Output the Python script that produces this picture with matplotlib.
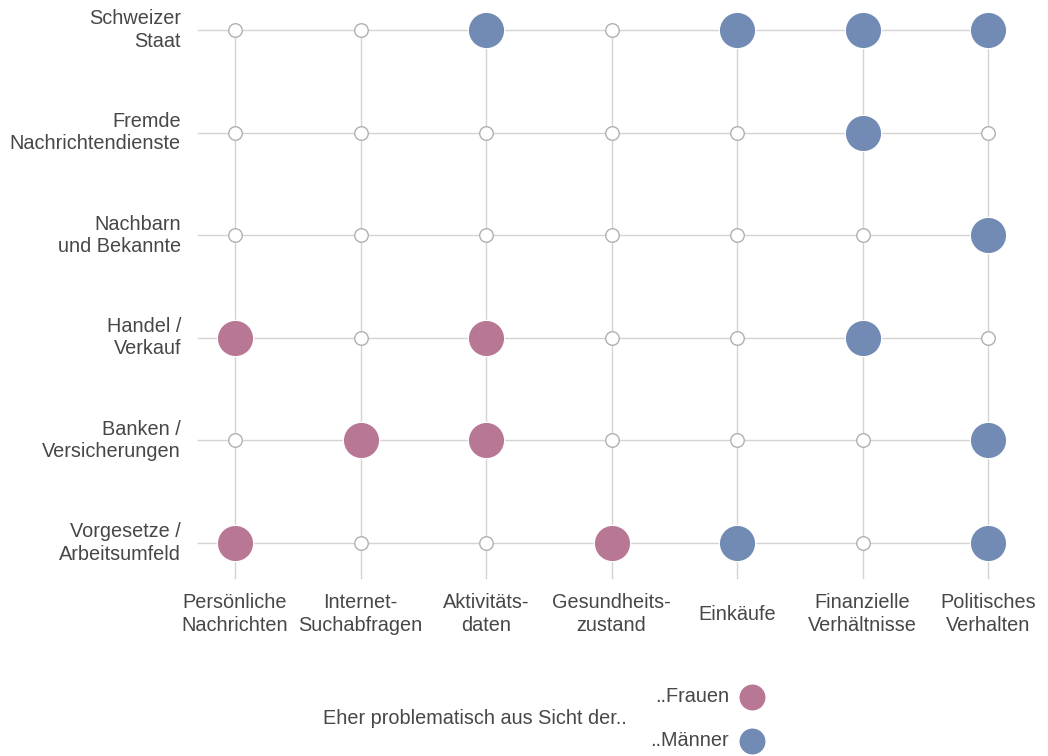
import matplotlib
matplotlib.use("Agg")
import matplotlib.pyplot as plt
import numpy as np

plt.rcParams['font.family'] = ['Liberation Sans', 'DejaVu Sans']

x_labels = ["Persönliche\nNachrichten", "Internet-\nSuchabfragen", "Aktivitäts-\ndaten",
            "Gesundheits-\nzustand", "Einkäufe", "Finanzielle\nVerhältnisse", "Politisches\nVerhalten"]
# bottom to top
y_labels = ["Vorgesetze /\nArbeitsumfeld", "Banken /\nVersicherungen", "Handel /\nVerkauf",
            "Nachbarn\nund Bekannte", "Fremde\nNachrichtendienste", "Schweizer\nStaat"]
# 0 = none, 1 = Frauen, 2 = Männer ; rows bottom to top
matrix = [
    [1, 0, 0, 1, 2, 0, 2],
    [0, 1, 1, 0, 0, 0, 2],
    [1, 0, 1, 0, 0, 2, 0],
    [0, 0, 0, 0, 0, 0, 2],
    [0, 0, 0, 0, 0, 2, 0],
    [0, 0, 2, 0, 2, 2, 2],
]
legend_title = "Eher problematisch aus Sicht der.."
legend_labels = ["..Frauen", "..Männer"]

col_f = "#B87795"
col_m = "#728BB5"
txt = "#474747"
grid = "#D3D3D3"
fs = 14.3

fig = plt.figure(figsize=(10.48, 7.56), dpi=100)
ax = fig.add_axes([0, 0, 1, 1])
dx, dy = 125.5, 102.6
x0p, y0p = 235, 543
ax.set_xlim(-x0p / dx, (1048 - x0p) / dx)
ax.set_ylim((y0p - 756) / dy, y0p / dy)
ax.axis("off")

nx, ny = len(x_labels), len(y_labels)
for j in range(ny):
    ax.plot([-37 / dx, nx - 1], [j, j], color=grid, lw=1, zorder=1)
for i in range(nx):
    ax.plot([i, i], [-35 / dy, ny - 1], color=grid, lw=1, zorder=1)

m = np.array(matrix)
for j in range(ny):
    for i in range(nx):
        v = m[j, i]
        if v == 0:
            ax.scatter(i, j, s=95, facecolor="white", edgecolor="#B0B0B0", lw=1, zorder=3)
        else:
            ax.scatter(i, j, s=680, facecolor=col_f if v == 1 else col_m, edgecolor="white", lw=0.8, zorder=3)

for j, lab in enumerate(y_labels):
    ax.text(-54 / dx, j, lab, ha="right", va="center", fontsize=fs, color=txt, linespacing=1.22)
for i, lab in enumerate(x_labels):
    ax.text(i, (y0p - 614) / dy, lab, ha="center", va="center", fontsize=fs, color=txt, linespacing=1.22)

# legend
def px(xp, yp):
    return (xp - x0p) / dx, (y0p - yp) / dy

ax.text(*px(627, 719), legend_title, ha="right", va="center", fontsize=fs, color=txt)
for k, (lab, c) in enumerate(zip(legend_labels, [col_f, col_m])):
    yp = 697 + 44 * k
    ax.text(*px(729, yp), lab, ha="right", va="center", fontsize=fs, color=txt)
    ax.scatter(*px(752, yp), s=380, facecolor=c, edgecolor="white", lw=0.8, zorder=3, clip_on=False)

fig.savefig("out.png", dpi=100)
